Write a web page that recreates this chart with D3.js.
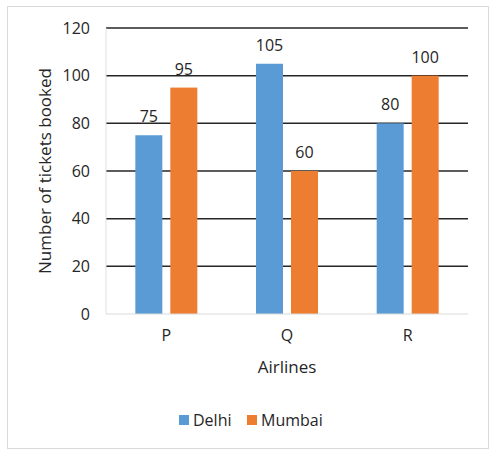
<!DOCTYPE html>
<html><head><meta charset="utf-8">
<script src="https://cdn.jsdelivr.net/npm/d3@7"></script>
<style>body{margin:0;background:#fff}svg{display:block}text{font-family:"Open Sans",sans-serif;fill:#262626}</style>
</head><body>
<script>
const categories = ["P","Q","R"];
const seriesNames = ["Delhi","Mumbai"];
const delhi = [75,105,80];
const mumbai = [95,60,100];
const yTicks = [0,20,40,60,80,100,120];
const colors = ["#5B9BD5","#ED7D31"];
const W=502,H=456;
const svg=d3.select("body").append("svg").attr("width",W).attr("height",H);
svg.append("rect").attr("x",7.5).attr("y",6.5).attr("width",481).attr("height",442).attr("fill","#fff").attr("stroke","#d9d9d9");
const x0=d3.scaleBand().domain(categories).range([106,468]);
const y=d3.scaleLinear().domain([0,120]).range([314,28]);
const gap=8,bw=27;
// grid
svg.append("g").selectAll("line").data(yTicks.filter(d=>d>0)).join("line")
 .attr("x1",106).attr("x2",468).attr("y1",d=>y(d)).attr("y2",d=>y(d)).attr("stroke","#262626").attr("stroke-width",1.5);
svg.append("line").attr("x1",106).attr("x2",106).attr("y1",28).attr("y2",314).attr("stroke","#e0e0e0");
// bars
const data=[delhi,mumbai];
data.forEach((vals,si)=>{
  const g=svg.append("g");
  g.selectAll("rect").data(vals).join("rect")
   .attr("x",(d,i)=>x0(categories[i])+x0.bandwidth()/2-(bw+gap/2)+si*(bw+gap))
   .attr("width",bw).attr("y",d=>y(d)).attr("height",d=>y(0)-y(d)).attr("fill",colors[si]);
  g.selectAll("text").data(vals).join("text")
   .attr("x",(d,i)=>x0(categories[i])+x0.bandwidth()/2-(bw+gap/2)+si*(bw+gap)+bw/2)
   .attr("y",d=>y(d)-13).attr("text-anchor","middle").attr("font-size",16).text(d=>d);
});
svg.append("line").attr("x1",106).attr("x2",468).attr("y1",314).attr("y2",314).attr("stroke","#d9d9d9");
// y axis
const ya=svg.append("g").attr("transform","translate(106,0)").call(d3.axisLeft(y).tickValues(yTicks).tickSize(0).tickPadding(16));
ya.select(".domain").remove();
ya.selectAll("text").attr("font-size",16).attr("font-family","Open Sans").attr("fill","#262626");
// x axis
const xa=svg.append("g").attr("transform","translate(0,314)").call(d3.axisBottom(x0).tickSize(0).tickPadding(16));
xa.select(".domain").remove();
xa.selectAll("text").attr("font-size",16).attr("font-family","Open Sans").attr("fill","#262626");
svg.append("text").attr("x",287).attr("y",373).attr("text-anchor","middle").attr("font-size",17).text("Airlines");
svg.append("text").attr("transform","translate(51,171) rotate(-90)").attr("text-anchor","middle").attr("font-size",17).text("Number of tickets booked");
// legend
const lx=[179,247];
seriesNames.forEach((n,i)=>{
  svg.append("rect").attr("x",lx[i]).attr("y",415).attr("width",10).attr("height",10).attr("fill",colors[i]);
  svg.append("text").attr("x",lx[i]+14).attr("y",426).attr("font-size",16).text(n);
});
</script>
</body></html>
